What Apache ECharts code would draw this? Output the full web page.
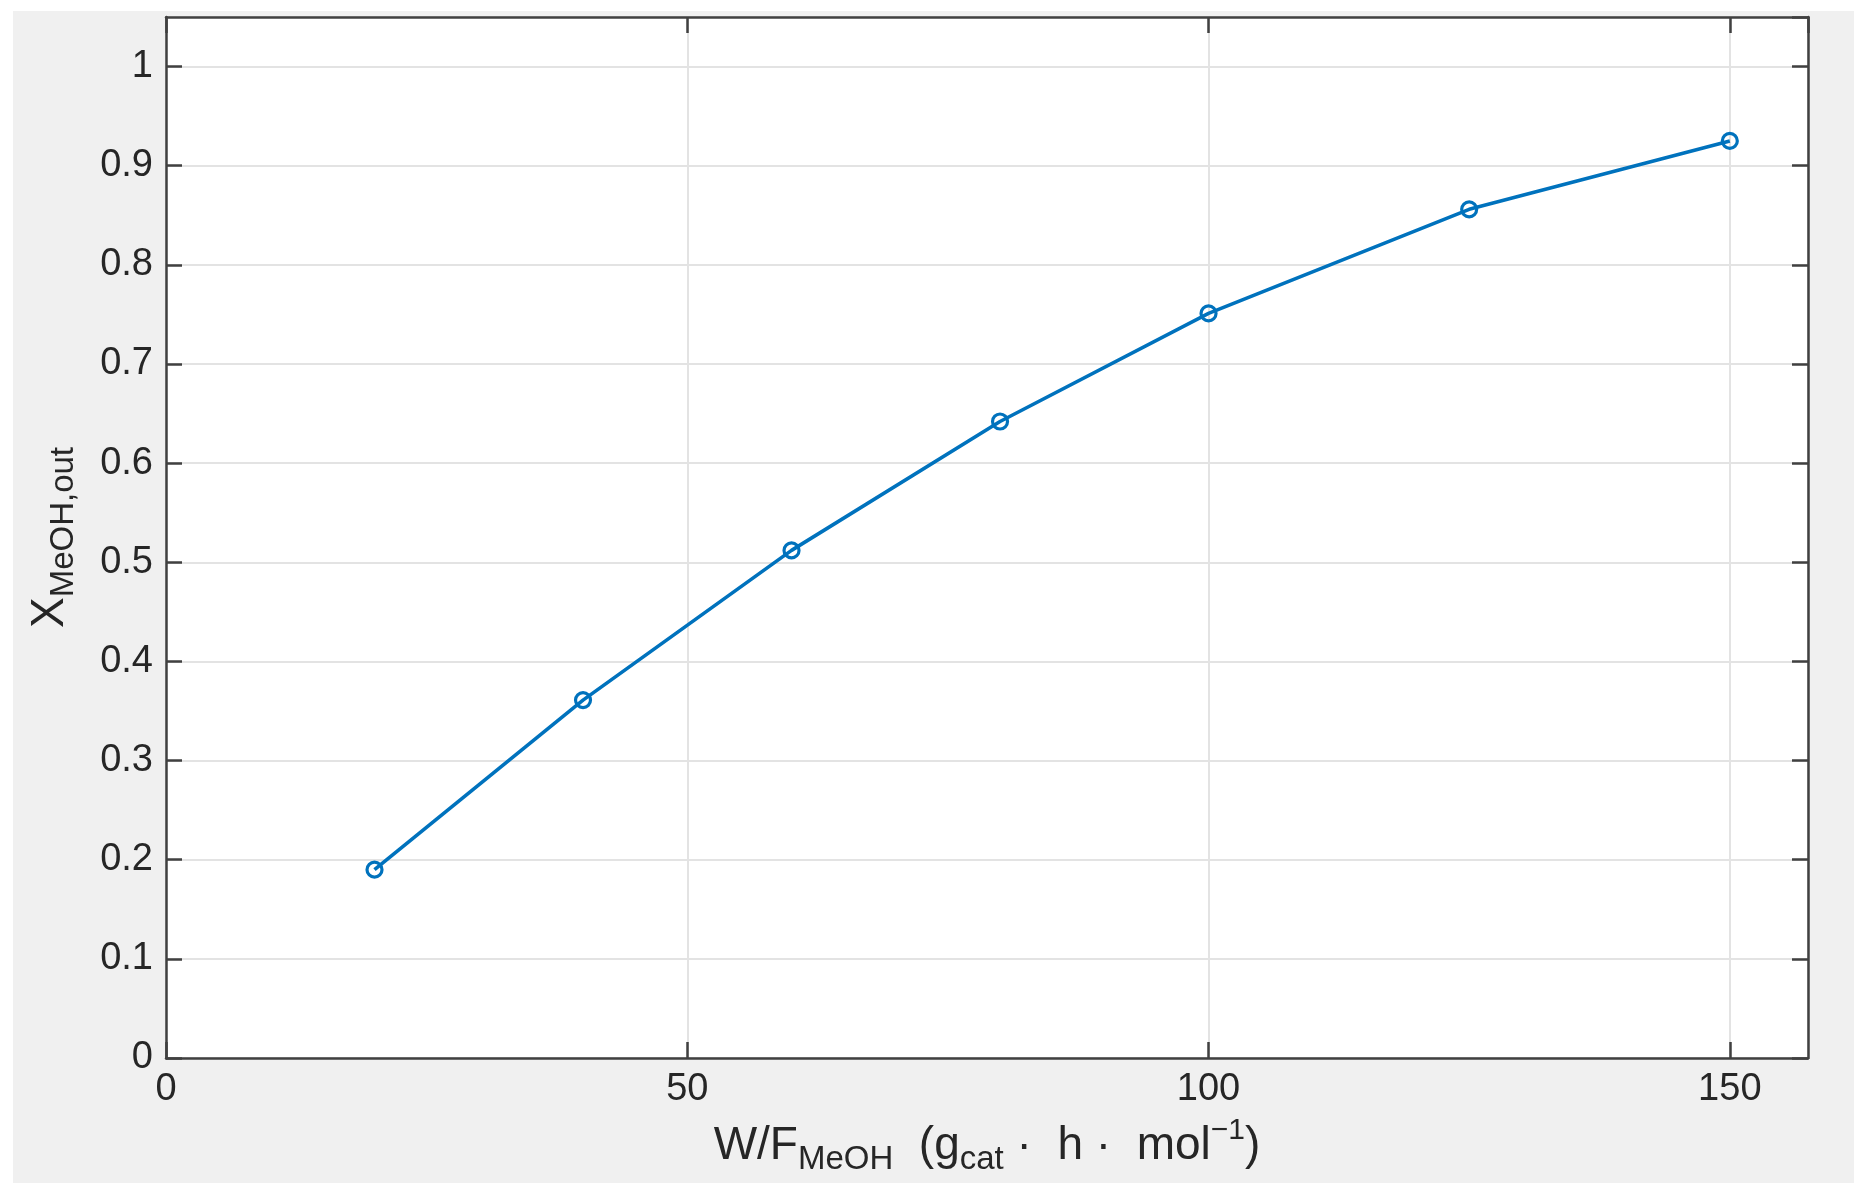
<!DOCTYPE html>
<html>
<head>
<meta charset="utf-8">
<script src="https://cdn.jsdelivr.net/npm/echarts@6/dist/echarts.min.js"></script>
<style>
  html, body { margin: 0; padding: 0; background: #ffffff; }
  #bg { position: absolute; left: 13px; top: 11px; width: 1841px; height: 1172px; background: #f0f0f0; }
  #chart { position: absolute; left: 0; top: 0; width: 1864px; height: 1199px; }
</style>
</head>
<body>
<div id="bg"></div>
<div id="chart"></div>
<script>
// Data
const wfValues = [20, 40, 60, 80, 100, 125, 150];
const conversion = [0.19, 0.361, 0.512, 0.642, 0.751, 0.856, 0.925];
const xTicks = [0, 50, 100, 150];
const yTicks = [0, 0.1, 0.2, 0.3, 0.4, 0.5, 0.6, 0.7, 0.8, 0.9, 1];

const FONT = "'Liberation Sans', Arial, Helvetica, sans-serif";
const TXT = '#262626';
const AX = '#404040';
const BLUE = '#0072BD';

const chart = echarts.init(document.getElementById('chart'), null, { renderer: 'canvas' });

const fmt = v => String(+(+v).toFixed(2));

const titleRich = {
  m: { fontSize: 46, fontFamily: FONT, color: TXT, lineHeight: 60, verticalAlign: 'middle' },
  s: { fontSize: 33, fontFamily: FONT, color: TXT, lineHeight: 26, verticalAlign: 'bottom' },
  p: { fontSize: 30, fontFamily: FONT, color: TXT, lineHeight: 32, verticalAlign: 'top' }
};

const option = {
  backgroundColor: 'transparent',
  animation: false,
  grid: {
    left: 166, top: 17, width: 1642, height: 1041,
    show: true, backgroundColor: '#ffffff', borderWidth: 0, containLabel: false
  },
  xAxis: [
    {
      type: 'value', position: 'bottom', min: 0, max: 157.5, interval: 50,
      axisLine: { show: true, onZero: false, lineStyle: { color: AX, width: 2.5 } },
      axisTick: { show: true, inside: true, length: 16, lineStyle: { color: AX, width: 2.5 } },
      axisLabel: {
        show: true, margin: 13, fontSize: 38, fontFamily: FONT, color: TXT,
        showMaxLabel: false,
        formatter: v => (xTicks.indexOf(+v) >= 0 ? fmt(v) : '')
      },
      splitLine: { show: true, lineStyle: { color: '#e3e3e3', width: 2 } },
      name: '{m|W/F}{s|MeOH}{m|  (g}{s|cat}{m| ·  h ·  mol}{p|−1}{m|)}',
      nameLocation: 'middle', nameGap: 58,
      nameTextStyle: { rich: titleRich, fontSize: 46, fontFamily: FONT, color: TXT }
    },
    {
      type: 'value', position: 'top', min: 0, max: 157.5, interval: 50,
      axisLine: { show: true, onZero: false, lineStyle: { color: AX, width: 2.5 } },
      axisTick: { show: true, inside: true, length: 16, lineStyle: { color: AX, width: 2.5 } },
      axisLabel: { show: false },
      splitLine: { show: false }
    }
  ],
  yAxis: [
    {
      type: 'value', position: 'left', min: 0, max: 1.05, interval: 0.1,
      axisLine: { show: true, onZero: false, lineStyle: { color: AX, width: 2.5 } },
      axisTick: { show: true, inside: true, length: 16, lineStyle: { color: AX, width: 2.5 } },
      axisLabel: {
        show: true, margin: 13, fontSize: 38, fontFamily: FONT, color: TXT,
        showMaxLabel: false,
        formatter: v => (v <= 1.0001 ? fmt(v) : '')
      },
      splitLine: { show: true, lineStyle: { color: '#e3e3e3', width: 2 } },
      name: '{m|X}{s|MeOH,out}',
      nameLocation: 'middle', nameRotate: 90, nameGap: 86,
      nameTextStyle: { rich: titleRich, fontSize: 46, fontFamily: FONT, color: TXT }
    },
    {
      type: 'value', position: 'right', min: 0, max: 1.05, interval: 0.1,
      axisLine: { show: true, onZero: false, lineStyle: { color: AX, width: 2.5 } },
      axisTick: { show: true, inside: true, length: 16, lineStyle: { color: AX, width: 2.5 } },
      axisLabel: { show: false },
      splitLine: { show: false }
    }
  ],
  series: [
    {
      type: 'line',
      xAxisIndex: 0, yAxisIndex: 0,
      data: wfValues.map((x, i) => [x, conversion[i]]),
      smooth: false,
      symbol: 'circle',
      symbolSize: 15,
      showAllSymbol: true,
      lineStyle: { color: BLUE, width: 3.6 },
      itemStyle: { color: 'rgba(255,255,255,0)', borderColor: BLUE, borderWidth: 3.2 },
      emphasis: { disabled: true },
      z: 3
    }
  ]
};

chart.setOption(option);
</script>
</body>
</html>
